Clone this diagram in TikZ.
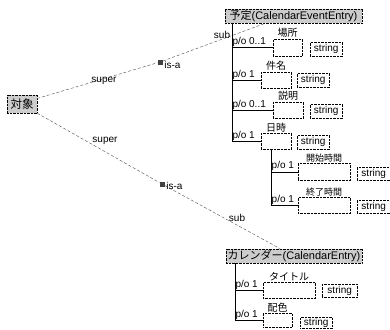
\documentclass[tikz,border=0pt]{standalone}
\usepackage{fontspec}
\setmainfont{Liberation Sans}
\newfontfamily\jp{Noto Sans CJK JP}
\usetikzlibrary{positioning,calc}

\begin{document}
\begin{tikzpicture}[x=1pt,y=-1pt,font=\fontsize{10}{11}\selectfont,
  cls/.style={draw,densely dotted,fill=gray!40,inner sep=1.5pt,minimum height=14pt,font=\fontsize{11}{12}\selectfont},
  slot/.style={draw,densely dotted,fill=white,anchor=north west,inner sep=0pt},
  typ/.style={draw,densely dotted,anchor=north west,inner sep=0pt,minimum width=32pt,minimum height=14pt},
  rel/.style={densely dashed,gray!60!black},
  tree/.style={black,thin},
  isa/.style={fill=black!75,minimum size=5pt,inner sep=0pt},
  lbl/.style={inner sep=0.5pt},
  jlbl/.style={inner sep=0pt,font=\jp\fontsize{10}{10}\selectfont}]
\useasboundingbox (0,0) rectangle (390,329);

% classes
\node[cls,minimum width=30pt,minimum height=18pt,font=\jp\fontsize{11.5}{12}\selectfont] (obj) at (22,104) {対象};
\node[cls,minimum width=137pt] (ev) at (293.5,16) {{\jp 予定}(CalendarEventEntry)};
\node[cls,minimum width=136pt] (cal) at (294,256) {{\jp カレンダー}(CalendarEntry)};

% is-a markers
\node[isa] (isa1) at (160,62) {};
\node[isa] (isa2) at (162,184) {};
\coordinate (evin) at ($(ev.south west)+(40,0)$);
\coordinate (calin) at ($(cal.north west)+(54,0)$);

\draw[rel] (obj.20) -- (isa1) -- (evin);
\draw[rel] (obj.south east) -- (isa2) -- (calin);
\node[lbl] (sup1) at (104,81) {super};
\node[lbl,right=1pt of isa1,yshift=-3pt] (isl1) {is-a};
\node[lbl] (sub1) at (222,35) {sub};
\node[lbl] (sup2) at (105,141) {super};
\node[lbl,right=1pt of isa2,yshift=-2pt] (isl2) {is-a};
\node[lbl] (sub2) at (237,218) {sub};

% slots of CalendarEventEntry
\node[slot,minimum width=29pt,minimum height=17pt] (bloc) at (273,39) {};
\node[slot,minimum width=30pt,minimum height=16pt] (bsub) at (261,72) {};
\node[slot,minimum width=30pt,minimum height=16pt] (bdesc) at (273,102) {};
\node[slot,minimum width=30pt,minimum height=16pt] (bdate) at (261,133) {};
\node[slot,minimum width=52pt,minimum height=17pt] (bstart) at (298,163) {};
\node[slot,minimum width=52pt,minimum height=16pt] (bend) at (298,197) {};
\node[jlbl,above=1pt of bloc] {場所};
\node[jlbl,above=1pt of bsub] {件名};
\node[jlbl,above=1pt of bdesc] {説明};
\node[jlbl,above=1pt of bdate] {日時};
\node[jlbl,above=1pt of bstart,font=\jp\fontsize{9}{9}\selectfont] {開始時間};
\node[jlbl,above=1pt of bend,font=\jp\fontsize{9}{9}\selectfont] {終了時間};
\node[typ] (sloc) at (310,42) {string};
\node[typ] (ssub) at (297,73) {string};
\node[typ] (sdesc) at (310,104) {string};
\node[typ] (sdate) at (297,135) {string};
\node[typ,minimum width=33pt,minimum height=13pt] (sstart) at (357,167) {string};
\node[typ,minimum width=33pt,minimum height=13pt] (send) at (357,200) {string};

\coordinate (evs) at ($(ev.south west)+(7,0)$);
\coordinate (dts) at ($(bdate.south west)+(10,0)$);
\foreach \b/\m in {bloc/0..1,bsub/1,bdesc/0..1,bdate/1}
  \draw[tree] (evs) |- (\b.west) node[pos=0.5,lbl,above right] {p/o \m};
\foreach \b in {bstart,bend}
  \draw[tree] (dts) |- (\b.west) node[pos=0.5,lbl,above right] {p/o 1};

% slots of CalendarEntry
\node[slot,minimum width=52pt,minimum height=16pt] (btitle) at (263,282) {};
\node[slot,minimum width=29pt,minimum height=14pt] (bcolor) at (263,313) {};
\node[jlbl,above=1pt of btitle] {タイトル};
\node[jlbl,above=1pt of bcolor] {配色};
\node[typ,minimum width=35pt,minimum height=13pt] (stitle) at (322,284) {string};
\node[typ,minimum height=11pt] (scolor) at (300,317) {string};

\coordinate (cals) at ($(cal.south west)+(9,0)$);
\foreach \b in {btitle,bcolor}
  \draw[tree] (cals) |- (\b.west) node[pos=0.5,lbl,above right] {p/o 1};
\end{tikzpicture}
\end{document}
